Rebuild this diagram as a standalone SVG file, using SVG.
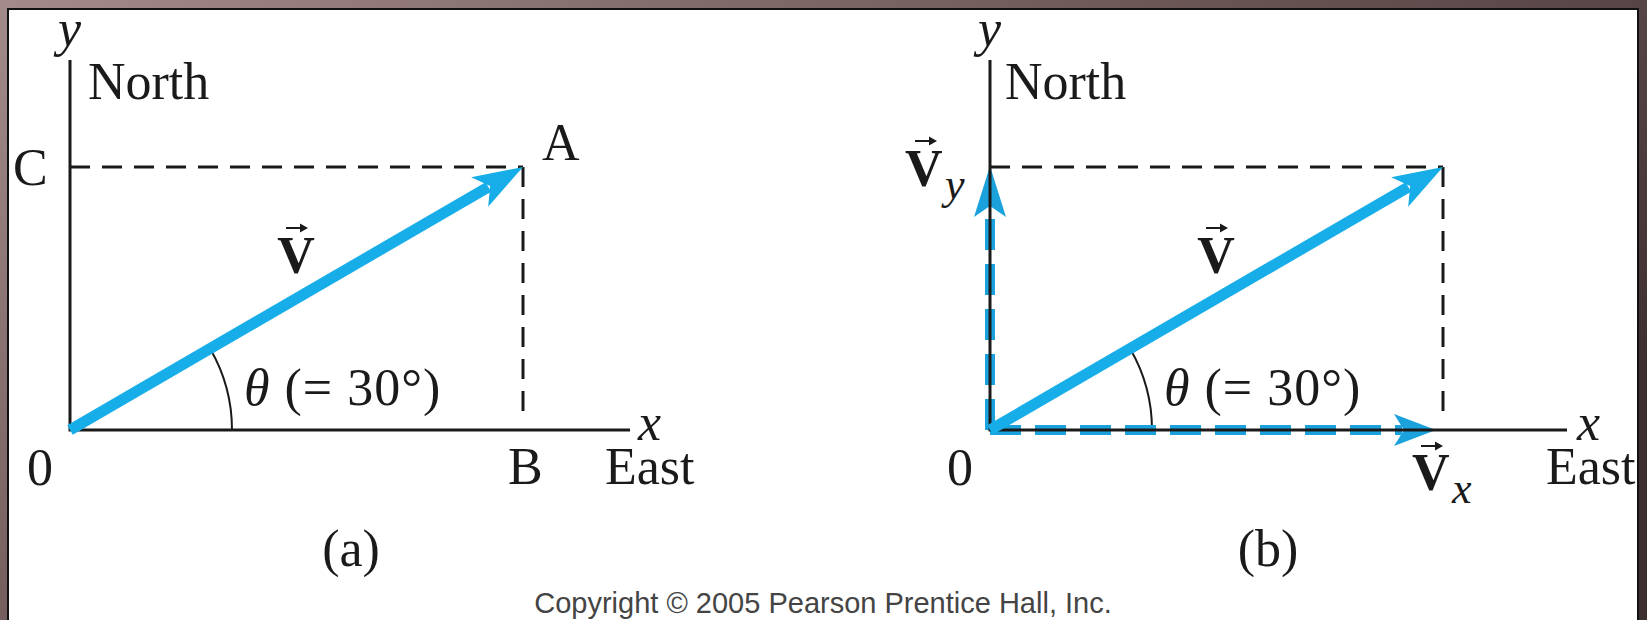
<svg xmlns="http://www.w3.org/2000/svg" width="1647" height="620" viewBox="0 0 1647 620">
<defs>
<linearGradient id="frame" x1="0" y1="0" x2="1" y2="0.6">
<stop offset="0" stop-color="#a48b8b"/>
<stop offset="0.5" stop-color="#6e5858"/>
<stop offset="1" stop-color="#3e2f2f"/>
</linearGradient>
<style>
.lbl{font-family:"Liberation Serif","Times New Roman",serif;font-size:52px;fill:#1a1a1a}
.it{font-style:italic}
.bd{font-weight:bold}
.sub{font-family:"Liberation Serif","Times New Roman",serif;font-style:italic;font-size:44px;fill:#1a1a1a}
.axis{stroke:#1a1a1a;stroke-width:3;fill:none}
.dash{stroke:#1a1a1a;stroke-width:3;fill:none;stroke-dasharray:20 12}
.arc{stroke:#1a1a1a;stroke-width:2;fill:none}
.vec{stroke:#16ade8;stroke-width:11;fill:none}
.head{fill:#16ade8}
.comp{stroke:#1ba2dc;stroke-width:10;fill:none;stroke-dasharray:31 14}
.chead{fill:#1ba2dc}
.ov{stroke:#1a1a1a;stroke-width:2;fill:none}
.ovh{fill:#1a1a1a}
.copy{font-family:"Liberation Sans",Arial,sans-serif;font-size:29px;fill:#444}
</style>
</defs>
<rect x="0" y="0" width="1647" height="620" fill="url(#frame)"/>
<rect x="8" y="9" width="1630" height="615" fill="#ffffff" stroke="#111" stroke-width="2"/>

<g id="panel-a">
  <g id="a-guides">
    <path class="dash" d="M70 167 H523"/>
    <path class="dash" d="M523 167 V417"/>
    <path class="arc" d="M232 430 A162 162 0 0 0 210.3 349"/>
  </g>
  <g id="a-axes">
    <path class="axis" d="M70 60 V430 H630"/>
  </g>
  <g id="a-vector-V">
    <path class="vec" d="M70 430 L488.4 187"/>
    <polygon class="head" points="523,167 488.2,206.7 490.1,186 471.2,177.3"/>
  </g>
  <g id="a-labels">
    <text class="lbl it" x="58" y="46">y</text>
    <text class="lbl" x="88" y="99">North</text>
    <text class="lbl" x="13" y="185">C</text>
    <text class="lbl" x="542" y="160">A</text>
    <text class="lbl bd" x="296" y="273" text-anchor="middle">V</text>
    <path class="ov" d="M286 228 H302"/><polygon class="ovh" points="308,228 300,223.5 300,232.5"/>
    <text class="lbl" x="244" y="405" letter-spacing="1"><tspan class="it">θ</tspan> (= 30°)</text>
    <text class="lbl" x="27" y="485">0</text>
    <text class="lbl it" x="638" y="440">x</text>
    <text class="lbl" x="508" y="484">B</text>
    <text class="lbl" x="605" y="484">East</text>
    <text class="lbl" x="351" y="566" text-anchor="middle">(a)</text>
  </g>
</g>

<g id="panel-b">
  <g id="b-guides">
    <path class="dash" d="M990 167 H1443"/>
    <path class="dash" d="M1443 167 V417"/>
    <path class="arc" d="M1152 430 A162 162 0 0 0 1130.3 349"/>
  </g>
  <g id="b-components">
    <path class="comp" d="M990 430 V207"/>
    <polygon class="chead" points="990,166 1006,217 990,206 974,217"/>
    <path class="comp" d="M990 430 H1402"/>
    <polygon class="chead" points="1436,430 1394,446 1404,430 1394,414"/>
  </g>
  <g id="b-axes">
    <path class="axis" d="M990 60 V430 H1567"/>
  </g>
  <g id="b-vector-V">
    <path class="vec" d="M990 430 L1408.4 187"/>
    <polygon class="head" points="1443,167 1408.2,206.7 1410.1,186 1391.2,177.3"/>
  </g>
  <g id="b-labels">
    <text class="lbl it" x="978" y="46">y</text>
    <text class="lbl" x="1005" y="99">North</text>
    <text class="lbl bd" x="1216" y="273" text-anchor="middle">V</text>
    <path class="ov" d="M1206 228 H1222"/><polygon class="ovh" points="1228,228 1220,223.5 1220,232.5"/>
    <text class="lbl bd" x="905" y="186">V</text>
    <path class="ov" d="M915 141 H931"/><polygon class="ovh" points="937,141 929,136.5 929,145.5"/>
    <text class="sub" x="945" y="199">y</text>
    <text class="lbl" x="1164" y="405" letter-spacing="1"><tspan class="it">θ</tspan> (= 30°)</text>
    <text class="lbl" x="947" y="485">0</text>
    <text class="lbl bd" x="1412" y="490">V</text>
    <path class="ov" d="M1421 446 H1437"/><polygon class="ovh" points="1443,446 1435,441.5 1435,450.5"/>
    <text class="sub" x="1452" y="503">x</text>
    <text class="lbl it" x="1577" y="440">x</text>
    <text class="lbl" x="1546" y="484">East</text>
    <text class="lbl" x="1268" y="566" text-anchor="middle">(b)</text>
  </g>
</g>

<text class="copy" x="823" y="613" text-anchor="middle">Copyright © 2005 Pearson Prentice Hall, Inc.</text>
</svg>
